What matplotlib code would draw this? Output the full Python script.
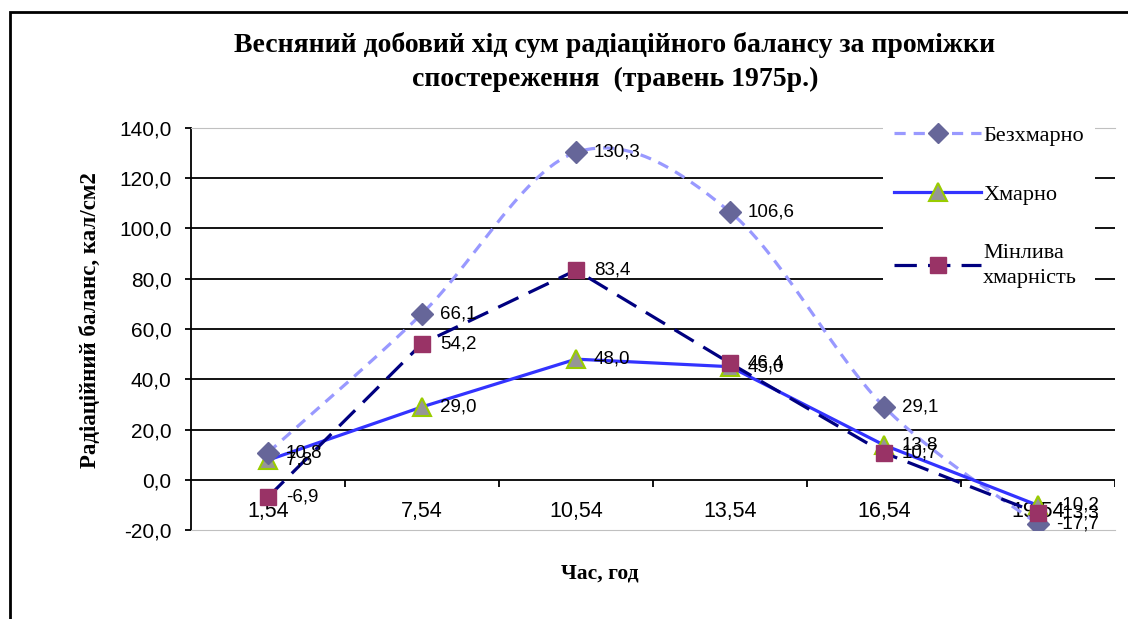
import numpy as np
import matplotlib.pyplot as plt
from matplotlib.patches import Rectangle
from matplotlib.lines import Line2D

hours = ['1,54', '7,54', '10,54', '13,54', '16,54', '19,54']
clear = [10.8, 66.1, 130.3, 106.6, 29.1, -17.7]
cloudy = [7.8, 29.0, 48.0, 45.0, 13.8, -10.2]
mixed = [-6.9, 54.2, 83.4, 46.4, 10.7, -13.3]
yticks = [-20, 0, 20, 40, 60, 80, 100, 120, 140]

serif = 'Liberation Serif'
sans = 'Liberation Sans'


def smooth(xs, ys, n=30):
    # Excel-style smoothed line (Catmull-Rom through the points)
    xs = np.asarray(xs, float)
    ys = np.asarray(ys, float)
    px = np.concatenate([[xs[0]], xs, [xs[-1]]])
    py = np.concatenate([[ys[0]], ys, [ys[-1]]])
    outx, outy = [], []
    t = np.linspace(0, 1, n)
    for i in range(1, len(px) - 2):
        p0, p1, p2, p3 = [np.array([px[j], py[j]]) for j in (i - 1, i, i + 1, i + 2)]
        c1 = p1 + (p2 - p0) / 6
        c2 = p2 - (p3 - p1) / 6
        b = ((1 - t) ** 3)[:, None] * p1 + (3 * (1 - t) ** 2 * t)[:, None] * c1 \
            + (3 * (1 - t) * t ** 2)[:, None] * c2 + (t ** 3)[:, None] * p2
        outx.extend(b[:, 0])
        outy.extend(b[:, 1])
    return outx, outy


fig = plt.figure(figsize=(11.28, 6.19), dpi=100)
W, H = 1128, 619
ax = fig.add_axes([191 / W, 1 - 530 / H, (1115 - 191) / W, (530 - 128) / H])

# outer frame
fig.patches.append(Rectangle((10 / W, -0.2), 1.5, (619 - 12) / H + 0.2,
                             transform=fig.transFigure, fill=False,
                             edgecolor='black', linewidth=2, clip_on=False))

x = np.arange(len(hours))
ax.set_xlim(-0.5, len(hours) - 0.5)
ax.set_ylim(-20, 140)

for v in yticks[2:-1]:
    ax.axhline(v, color='black', linewidth=1.3, zorder=1)
ax.axhline(0, color='black', linewidth=1.3, zorder=1)
ax.vlines(np.arange(len(hours)) + 0.5, 0, -2.8, color='black', linewidth=1.3)

ax.spines['right'].set_visible(False)
ax.spines['top'].set_color('#c0c0c0')
ax.spines['bottom'].set_color('#c0c0c0')
ax.spines['left'].set_linewidth(1.3)
ax.set_xticks([])
ax.set_yticks(yticks)
ax.set_yticklabels([f'{v:.1f}'.replace('.', ',') for v in yticks],
                   fontfamily=sans, fontsize=15)
ax.tick_params(axis='y', length=4, width=1.3, pad=10)

for i, h in enumerate(hours):
    ax.annotate(h, (i, 0), xytext=(0, -15), textcoords='offset points',
                ha='center', va='top', fontfamily=sans, fontsize=15.5)

sx, sy = smooth(x, clear)
ax.plot(sx, sy, color='#9999ff', linewidth=2.3, dashes=(3.5, 2.5), zorder=3)
ax.plot(x, clear, linestyle='none', marker='D', markersize=11,
        color='#666699', zorder=5)
ax.plot(x, cloudy, color='#3333ff', linewidth=2.3, marker='^', markersize=13,
        markerfacecolor='#969696', markeredgecolor='#99cc00',
        markeredgewidth=1.5, zorder=4)
ax.plot(x, mixed, color='#000080', linewidth=2.3, dashes=(7, 3.5), marker='s',
        markersize=12, markerfacecolor='#993366', markeredgecolor='#993366',
        zorder=6)

for series in (clear, cloudy, mixed):
    for i, v in enumerate(series):
        ax.annotate(f'{v:.1f}'.replace('.', ','), (i, v), xytext=(13, 0),
                    textcoords='offset points', ha='left', va='center',
                    fontfamily=sans, fontsize=13.5, zorder=7)

handles = [
    Line2D([], [], color='#9999ff', linewidth=2.3, dashes=(3.5, 2.5), marker='D',
           markersize=10, markerfacecolor='#666699', markeredgecolor='#666699'),
    Line2D([], [], color='#3333ff', linewidth=2.3, marker='^', markersize=13,
           markerfacecolor='#969696', markeredgecolor='#99cc00', markeredgewidth=1.5),
    Line2D([], [], color='#000080', linewidth=2.3, dashes=(7, 3.5), marker='s',
           markersize=12, markerfacecolor='#993366', markeredgecolor='#993366'),
]
leg = ax.legend(handles, ['Безхмарно', 'Хмарно', 'Мінлива\nхмарність'],
                loc='upper left', bbox_to_anchor=(872 / W, 1 - 103 / H),
                bbox_transform=fig.transFigure, frameon=True, fancybox=False,
                framealpha=1, facecolor='white', edgecolor='none',
                prop={'family': serif, 'size': 16}, handlelength=3.9,
                handletextpad=0.1, labelspacing=1.75, borderpad=0.5)
leg.get_texts()[2].set_linespacing(1.45)
leg.set_zorder(10)

fig.text(615 / W, 1 - 45 / H,
         'Весняний добовий хід сум радіаційного балансу за проміжки',
         ha='center', va='center', fontfamily=serif, fontweight='bold', fontsize=20)
fig.text(615 / W, 1 - 79 / H, 'спостереження  (травень 1975р.)',
         ha='center', va='center', fontfamily=serif, fontweight='bold', fontsize=20)
fig.text(90 / W, 1 - 320 / H, 'Радіаційний баланс, кал/см2', rotation=90,
         ha='center', va='center', fontfamily=serif, fontweight='bold', fontsize=16.5)
fig.text(600 / W, 1 - 573 / H, 'Час, год', ha='center', va='center',
         fontfamily=serif, fontweight='bold', fontsize=15.5)

fig.savefig('out.png', dpi=100)
